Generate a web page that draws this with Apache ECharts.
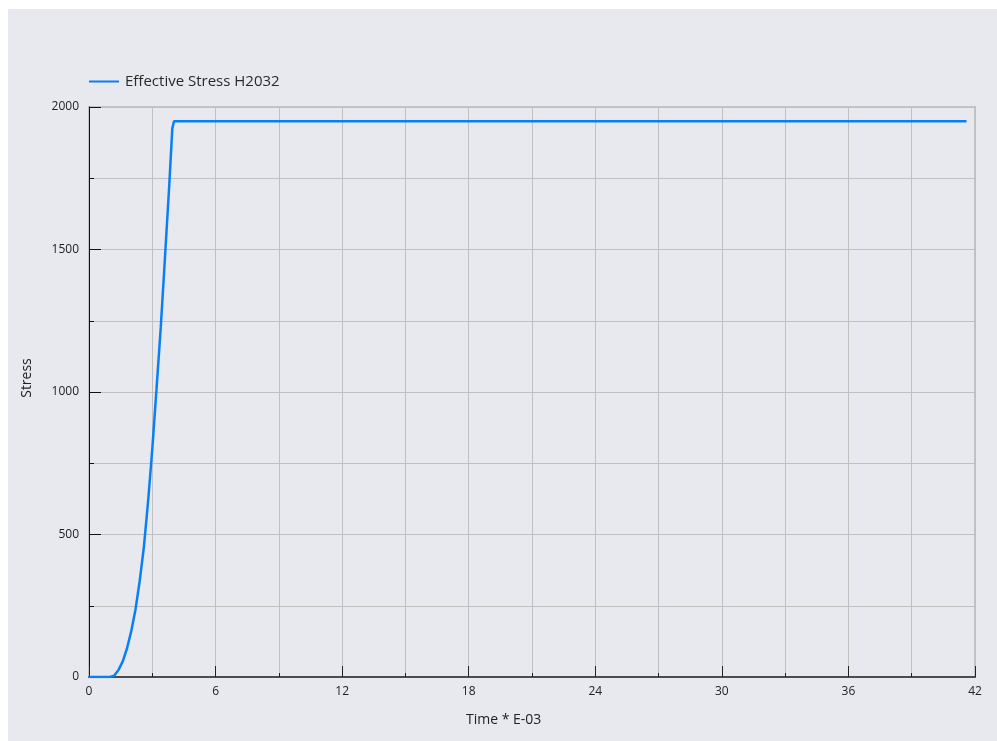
<!DOCTYPE html>
<html>
<head>
<meta charset="utf-8">
<script src="https://cdn.jsdelivr.net/npm/echarts@6/dist/echarts.min.js"></script>
<style>
  html, body { margin: 0; padding: 0; background: #ffffff; }
  #chart { position: absolute; left: 8px; top: 9px; width: 989px; height: 732px; background: #e7e9ee; }
</style>
</head>
<body>
<div id="chart"></div>
<script>
// Effective stress history for element H2032
const seriesName = 'Effective Stress H2032';
const timeValues = [0, 1.0, 1.2, 1.4, 1.6, 1.8, 2.0, 2.2, 2.4, 2.6, 2.8, 3.0, 3.2, 3.4, 3.6, 3.8, 3.95, 4.03, 41.6];
const stressValues = [0, 0, 5, 25, 55, 100, 160, 235, 335, 455, 615, 800, 1010, 1225, 1470, 1720, 1925, 1950, 1950];
const xAxisTitle = 'Time * E-03';
const yAxisTitle = 'Stress';

const points = timeValues.map((t, i) => [t, stressValues[i]]);
const font = '"Open Sans", "Noto Sans", sans-serif';

const chart = echarts.init(document.getElementById('chart'), null, { renderer: 'canvas' });
chart.setOption({
  backgroundColor: '#e7e9ee',
  animation: false,
  textStyle: { fontFamily: font },
  legend: {
    left: 81, top: 65, padding: 0,
    icon: 'rect', itemWidth: 30, itemHeight: 2, itemGap: 10,
    textStyle: { fontSize: 15, color: '#2a2a2a', fontFamily: font, padding: [0, 0, 0, 1] },
    data: [seriesName]
  },
  grid: {
    left: 81, top: 98, right: 22, bottom: 64,
    show: true, borderColor: '#c3c4c6', borderWidth: 2, backgroundColor: 'transparent'
  },
  xAxis: {
    type: 'value', min: 0, max: 42, interval: 6,
    axisLine: { show: true, lineStyle: { color: '#4d4d4d', width: 2 } },
    axisTick: { show: true, inside: true, length: 11, lineStyle: { color: '#222', width: 1 } },
    minorTick: { show: true, splitNumber: 2, length: 4, lineStyle: { color: '#222', width: 1 } },
    splitLine: { show: true, lineStyle: { color: '#c0c0c0', width: 1 } },
    minorSplitLine: { show: true, lineStyle: { color: '#c0c0c0', width: 1 } },
    axisLabel: { fontSize: 12, color: '#222', margin: 9, fontFamily: font }
  },
  yAxis: {
    type: 'value', min: 0, max: 2000, interval: 500,
    axisLine: { show: true, lineStyle: { color: '#111', width: 1 } },
    axisTick: { show: true, inside: true, length: 12, lineStyle: { color: '#111', width: 1 } },
    minorTick: { show: true, splitNumber: 2, length: 5, lineStyle: { color: '#111', width: 1 } },
    splitLine: { show: true, lineStyle: { color: '#c0c0c0', width: 1 } },
    minorSplitLine: { show: true, lineStyle: { color: '#c0c0c0', width: 1 } },
    axisLabel: { fontSize: 12, color: '#222', margin: 10, fontFamily: font, formatter: v => String(v) }
  },
  graphic: [
    {
      type: 'text', left: 458, top: 704,
      style: { text: xAxisTitle, font: '14px ' + font, fill: '#222' }
    },
    {
      type: 'text', x: 19, y: 369, rotation: Math.PI / 2,
      style: { text: yAxisTitle, font: '14px ' + font, fill: '#222', align: 'center', verticalAlign: 'middle' }
    }
  ],
  series: [{
    name: seriesName,
    type: 'line',
    data: points,
    symbol: 'none',
    lineStyle: { color: '#0a7ff5', width: 2.5 },
    itemStyle: { color: '#0a7ff5' }
  }]
});
</script>
</body>
</html>
